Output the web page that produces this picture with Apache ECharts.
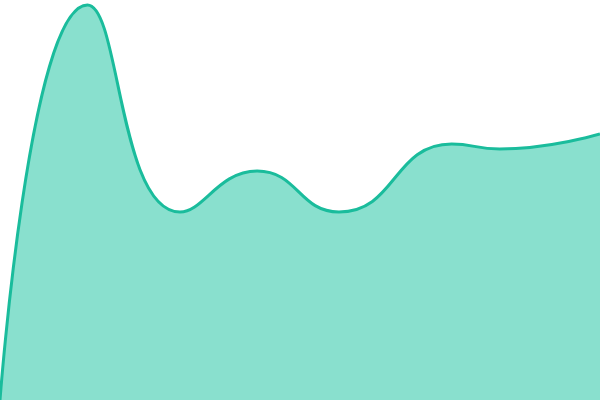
<!DOCTYPE html>
<html>
<head>
<meta charset="utf-8">
<script src="https://cdn.jsdelivr.net/npm/echarts@6/dist/echarts.min.js"></script>
<style>html,body{margin:0;padding:0;background:#fff}#c{width:600px;height:400px}</style>
</head>
<body>
<div id="c"></div>
<script>
// x positions (in category-step units, 0..7) and values
const xPositions = [0, 1.02, 2.1, 3.0, 3.955, 5.27, 5.83, 7];
const values = [0, 395, 188, 229, 188, 256, 251, 266];

const chart = echarts.init(document.getElementById('c'));
chart.setOption({
  animation: false,
  grid: { left: 0, right: 0, top: 0, bottom: 0 },
  xAxis: { type: 'value', min: 0, max: 7, show: false },
  yAxis: { type: 'value', min: 0, max: 400, show: false },
  series: [{
    type: 'line',
    data: xPositions.map((x, i) => [x, values[i]]),
    smooth: 0.5,
    symbol: 'none',
    lineStyle: { color: '#1abc9c', width: 3 },
    areaStyle: { color: '#89e0ce', opacity: 1 }
  }]
});
</script>
</body>
</html>
